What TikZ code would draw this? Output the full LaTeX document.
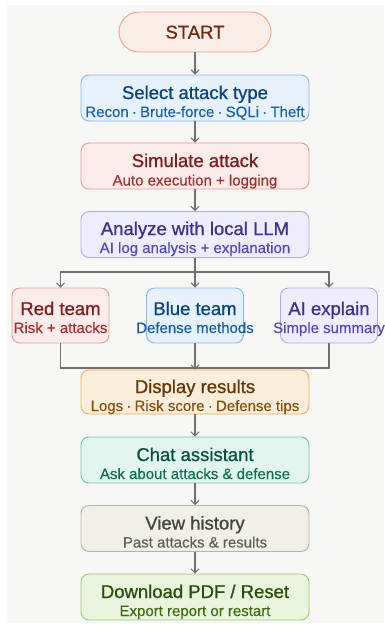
\documentclass[tikz,border=0pt]{standalone}
\usepackage{fontspec}
\setmainfont{Liberation Sans}
\newfontfamily\ttlfont[FakeBold=0.9]{Liberation Sans}
\newfontfamily\subfont[FakeBold=0.3]{Liberation Sans}
\usetikzlibrary{arrows.meta}
\definecolor{bgc}{HTML}{F7F7F5}
\definecolor{arrc}{HTML}{707070}
\definecolor{coF}{HTML}{FAECE7}\definecolor{coB}{HTML}{E8A58C}\definecolor{coT}{HTML}{712B13}
\definecolor{blF}{HTML}{E6F1FB}\definecolor{blB}{HTML}{85B7EB}\definecolor{blT}{HTML}{0C447C}\definecolor{blS}{HTML}{185FA5}
\definecolor{rdF}{HTML}{FCEBEB}\definecolor{rdB}{HTML}{E39898}\definecolor{rdT}{HTML}{791F1F}\definecolor{rdS}{HTML}{A32D2D}
\definecolor{puF}{HTML}{EEEDFE}\definecolor{puB}{HTML}{AFA9EC}\definecolor{puT}{HTML}{3C3489}\definecolor{puS}{HTML}{534AB7}
\definecolor{amF}{HTML}{FAEEDA}\definecolor{amB}{HTML}{E2AE62}\definecolor{amT}{HTML}{633806}\definecolor{amS}{HTML}{854F0B}
\definecolor{teF}{HTML}{E1F5EE}\definecolor{teB}{HTML}{6CC7A6}\definecolor{teT}{HTML}{085041}\definecolor{teS}{HTML}{0F6E56}
\definecolor{grF}{HTML}{F1EFE8}\definecolor{grB}{HTML}{B4B2A9}\definecolor{grT}{HTML}{444441}\definecolor{grS}{HTML}{5F5E5A}
\definecolor{gnF}{HTML}{EAF3DE}\definecolor{gnB}{HTML}{9FC76C}\definecolor{gnT}{HTML}{27500A}\definecolor{gnS}{HTML}{3B6D11}
\newcommand{\md}{\kern3.2pt·\kern3.2pt}
\tikzset{
  box/.style={draw, rounded corners=8pt, line width=0.9pt, inner sep=0pt},
  wide/.style={box, minimum width=228pt, minimum height=46pt},
  small/.style={box, minimum width=97pt, minimum height=55pt},
  ttl/.style={anchor=base, inner sep=0pt, font=\ttlfont\fontsize{18.5}{20}\selectfont},
  sub/.style={anchor=base, inner sep=0pt, font=\subfont\fontsize{15}{17}\selectfont},
  arr/.style={draw=arrc, line width=1.3pt, -{Straight Barb[length=4pt,width=8pt,line width=1.1pt]}},
  ln/.style={draw=arrc, line width=1.3pt}
}
\begin{document}
\begin{tikzpicture}[x=1pt,y=-1pt]
\useasboundingbox (0,0) rectangle (384,625);
\fill[bgc] (7,5) rectangle (384,623);
% START
\node[box, rounded corners=20pt, fill=coF, draw=coB, minimum width=152pt, minimum height=40pt] (start) at (195,32) {};
\node[ttl, text=coT] (startT) at (195,38.5) {START};
% Select
\node[wide, fill=blF, draw=blB] (sel) at (195,98) {};
\node[ttl, text=blT] (selT) at (195,99) {Select attack type};
\node[sub, text=blS] (selS) at (195,117) {Recon\md Brute-force\md SQLi\md Theft};
% Simulate
\node[wide, fill=rdF, draw=rdB] (sim) at (195,166) {};
\node[ttl, text=rdT] (simT) at (195,167) {Simulate attack};
\node[sub, text=rdS] (simS) at (195,185.5) {Auto execution + logging};
% Analyze
\node[wide, fill=puF, draw=puB] (an) at (195,234.5) {};
\node[ttl, text=puT] (anT) at (195,235) {Analyze with local LLM};
\node[sub, text=puS] (anS) at (195,253) {AI log analysis + explanation};
% three
\node[small, fill=rdF, draw=rdB] (red) at (60.5,315.5) {};
\node[ttl, text=rdT] (redT) at (60.5,315) {Red team};
\node[sub, text=rdS] (redS) at (60.5,333) {Risk + attacks};
\node[small, fill=blF, draw=blB] (blue) at (195,315.5) {};
\node[ttl, text=blT] (blueT) at (195,315) {Blue team};
\node[sub, text=blS] (blueS) at (195,333) {Defense methods};
\node[small, fill=puF, draw=puB] (ai) at (329,315.5) {};
\node[ttl, text=puT] (aiT) at (329,315) {AI explain};
\node[sub, text=puS] (aiS) at (329,333) {Simple summary};
% Display
\node[wide, minimum height=44pt, fill=amF, draw=amB] (disp) at (195,392) {};
\node[ttl, text=amT] (dispT) at (195,393) {Display results};
\node[sub, text=amS] (dispS) at (195,411) {Logs\md Risk score\md Defense tips};
% Chat
\node[wide, fill=teF, draw=teB] (chat) at (195,460) {};
\node[ttl, text=teT] (chatT) at (195,461) {Chat assistant};
\node[sub, text=teS] (chatS) at (195,479) {Ask about attacks \& defense};
% History
\node[wide, fill=grF, draw=grB] (hist) at (195,528.5) {};
\node[ttl, text=grT] (histT) at (195,529.5) {View history};
\node[sub, text=grS] (histS) at (195,547.5) {Past attacks \& results};
% Download
\node[wide, fill=gnF, draw=gnB] (dl) at (195,597) {};
\node[ttl, text=gnT] (dlT) at (195,598) {Download PDF / Reset};
\node[sub, text=gnS] (dlS) at (195,616) {Export report or restart};
% connectors
\draw[arr] (start) -- (sel);
\draw[arr] (sel) -- (sim);
\draw[arr] (sim) -- (an);
\coordinate (split) at (195,272);
\coordinate (merge) at (195,368);
\draw[ln] (an.south) -- (split);
\draw[ln] (red.north |- split) -- (ai.north |- split);
\draw[arr] (split) -| (red.north);
\draw[arr] (split) -- (blue.north);
\draw[arr] (split) -| (ai.north);
\draw[ln] (red.south) |- (merge);
\draw[ln] (ai.south) |- (merge);
\draw[arr] (blue.south) -- (disp.north);
\draw[arr] (disp) -- (chat);
\draw[arr] (chat) -- (hist);
\draw[arr] (hist) -- (dl);
\end{tikzpicture}
\end{document}
